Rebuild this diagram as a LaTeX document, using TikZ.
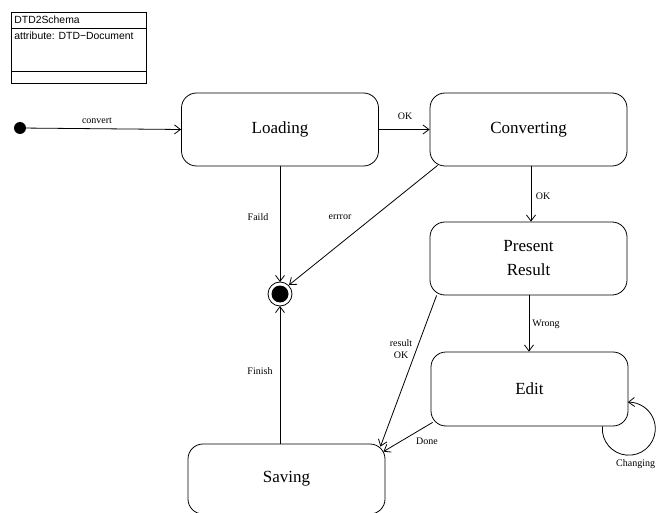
\documentclass[tikz,border=0pt]{standalone}
\usepackage{fontspec}
\setmainfont{Liberation Serif}
\newfontfamily\umlsans{Liberation Sans}
\usetikzlibrary{arrows.meta,calc}
\begin{document}
\begin{tikzpicture}[x=1pt,y=-1pt,
  line width=0.8pt,
  state/.style={draw,rounded corners=15pt,minimum width=197pt,minimum height=73pt,
    font=\fontsize{17}{24}\selectfont,align=center,inner sep=0pt},
  lbl/.style={font=\fontsize{10}{12.5}\selectfont,inner sep=0pt,align=center},
  trans/.style={-{Straight Barb[length=6pt,width=9pt]}},
  cls/.style={font=\umlsans\fontsize{10.4}{12}\selectfont,inner sep=0pt,anchor=west}]
\useasboundingbox (0,0) rectangle (656,513);

% class box
\draw (11,12) rectangle (146,83);
\draw (11,28) -- (146,28);
\draw (11,71) -- (146,71);
\node[cls] (clsname) at (14,20) {DTD2Schema};
\node[cls] (clsattr) at (14,36) {attribute: DTD\textminus Document};

% pseudo states
\fill (20,128) circle (6);
\coordinate (init) at (20,128);
\draw (280,294) circle (12);
\fill (280,294) circle (8.5);
\coordinate (final) at (280,294);
\coordinate (finaltop) at (280,282);
\coordinate (finalbot) at (280,306);

% states
\node[state] (loading) at (280,129.5) {Loading};
\node[state] (converting) at (528.5,129.5) {Converting};
\node[state] (present) at (528.5,258.5) {Present\\Result};
\node[state,minimum height=74pt] (edit) at (529.5,389) {Edit};
\node[state,minimum height=70pt] (saving) at (286.5,479) {Saving};

% transitions
\draw[trans] (init) -- (loading.west);
\node[lbl] (lconvert) at (97,121) {convert};

\draw[trans] (loading.east) -- (converting.west);
\node[lbl] (lok1) at (405,116) {OK};

\draw[trans] (converting.south -| 531,0) -- (present.north -| 531,0);
\node[lbl] (lok2) at (543,196) {OK};

\draw[trans] (loading.south -| finaltop) -- (finaltop);
\node[lbl] (lfaild) at (258,217) {Faild};

\draw[trans] ($(converting.south west)+(8,-1)$) -- ($(final)+(9,-9)$);
\node[lbl] (lerror) at (340,217) {errror};

\draw[trans] (present.south -| 529,0) -- (edit.north -| 529,0);
\node[lbl] (lwrong) at (546,324) {Wrong};

\draw[trans] ($(present.south west)+(7,0)$) -- ($(saving.north east)+(-5,3)$);
\node[lbl] (lresult) at (401,349) {result\\OK};

\draw[trans] ($(edit.south west)+(2,-4)$) -- ($(saving.north east)+(-2,8)$);
\node[lbl] (ldone) at (427,441) {Done};

\draw[trans] (saving.north -| finalbot) -- (finalbot);
\node[lbl] (lfinish) at (260,371) {Finish};

% self transition on Edit
\draw[trans] ($(edit.south east)+(-26,0)$) arc[start angle=185,end angle=-92,radius=26.5];
\node[lbl,anchor=east] (lchanging) at (655.5,464) {Changing};
\end{tikzpicture}
\end{document}
